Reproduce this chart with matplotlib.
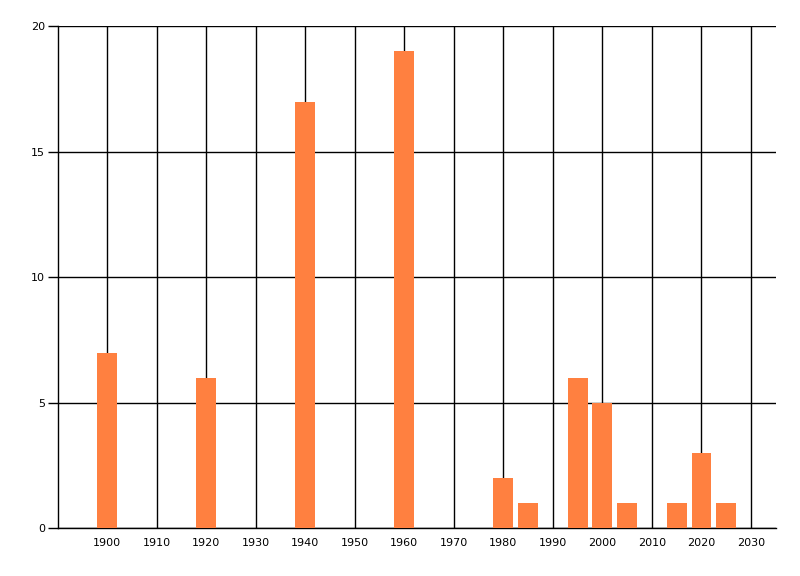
import matplotlib
matplotlib.use("Agg")
import matplotlib.pyplot as plt

years = [1900, 1920, 1940, 1960, 1980, 1985, 1995, 2000, 2005, 2015, 2020, 2025]
counts = [7, 6, 17, 19, 2, 1, 6, 5, 1, 1, 3, 1]
xticks = list(range(1900, 2031, 10))
yticks = [0, 5, 10, 15, 20]

fig = plt.figure(figsize=(8, 5.76), dpi=100)
ax = fig.add_axes([0.0721, 0.0828, 0.8975, 0.8715])
ax.set_axisbelow(True)
ax.bar(years, counts, width=4, color='#FF8040', zorder=3)
ax.set_xlim(1890, 2035)
ax.set_ylim(0, 20)
ax.set_xticks(xticks)
ax.set_yticks(yticks)
ax.grid(True, color='black', linewidth=1)
for s in ['top', 'right']:
    ax.spines[s].set_visible(False)
for s in ['left', 'bottom']:
    ax.spines[s].set_linewidth(1.0)
ax.tick_params(axis='x', length=0, pad=7, labelsize=8)
ax.tick_params(axis='y', length=7, width=1, pad=2, labelsize=8)
fig.savefig('out.png', dpi=100)
